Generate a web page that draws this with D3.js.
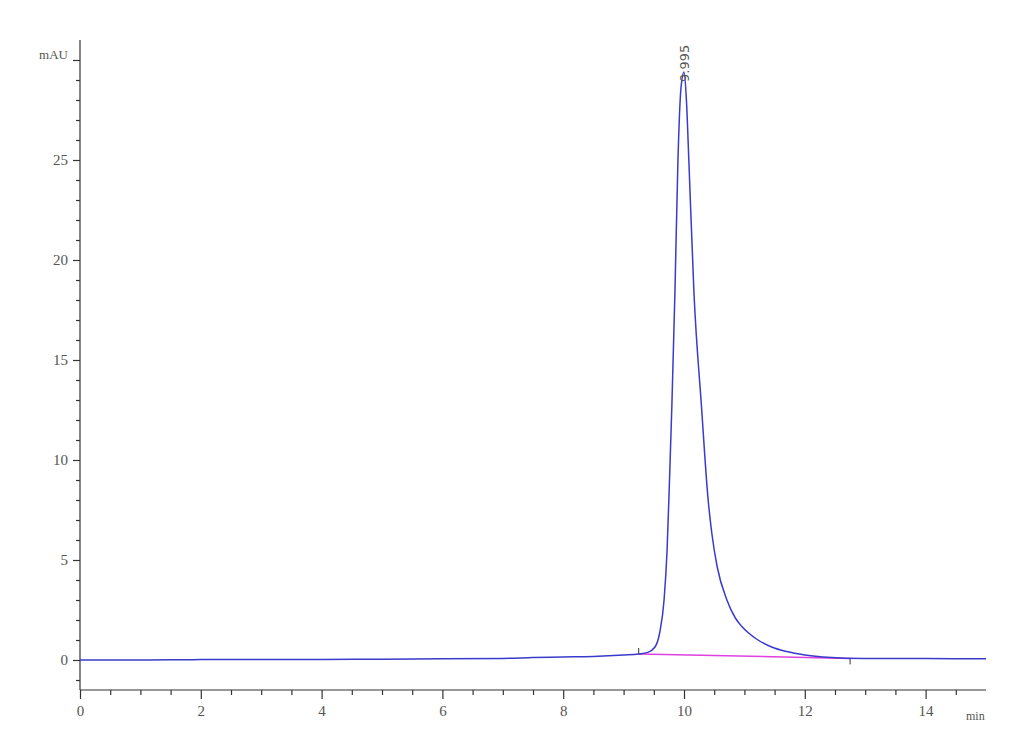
<!DOCTYPE html>
<html><head><meta charset="utf-8">
<script src="https://cdn.jsdelivr.net/npm/d3@7"></script>
<style>body{margin:0;background:#fff}svg{display:block}</style>
</head><body>
<script>
// Chromatogram trace (time in min, absorbance in mAU)
const times  = [0, 0.5, 1, 1.5, 2, 3, 4, 5, 6, 7, 7.5, 8, 8.5, 9, 9.25, 9.4, 9.52, 9.6, 9.67, 9.72, 9.76, 9.8, 9.85, 9.9, 9.95, 10.0, 10.04, 10.08, 10.165, 10.29, 10.4, 10.46, 10.55, 10.71, 10.85, 10.95, 11.07, 11.2, 11.45, 11.7, 12.0, 12.3, 12.6, 13, 14, 15];
const values = [0.0, 0.0, 0.0, 0.01, 0.02, 0.02, 0.03, 0.04, 0.06, 0.08, 0.12, 0.15, 0.18, 0.25, 0.3, 0.38, 0.65, 1.4, 3.0, 5.5, 9.0, 12.8, 18.4, 25.0, 28.6, 29.4, 28.0, 25.0, 18.35, 12.65, 8.0, 6.35, 4.65, 3.0, 2.1, 1.7, 1.35, 1.05, 0.65, 0.42, 0.25, 0.15, 0.1, 0.08, 0.07, 0.06];
// Integration baseline (start / end of peak)
const baseTimes  = [9.25, 12.75];
const baseValues = [0.3, 0.08];
const peakLabel = "9.995";
const peakTime = 9.995, peakValue = 29.4;
const yMajorTicks = [0, 5, 10, 15, 20, 25, 30];
const yTickLabels = ["0", "5", "10", "15", "20", "25", "mAU"];
const xMajorTicks = [0, 2, 4, 6, 8, 10, 12, 14];
const xUnitLabel = "min";

const W = 1030, H = 755;
const svg = d3.select("body").append("svg").attr("width", W).attr("height", H);
const x = d3.scaleLinear().domain([0, 15]).range([80, 986]);
const y = d3.scaleLinear().domain([-1.5, 30]).range([690, 60]);
const axisColor = "#333";
const font = "'Liberation Serif', 'DejaVu Serif', serif";

// minor y ticks
const yMinor = d3.range(-1, 31).filter(v => !yMajorTicks.includes(v));
const gyMinor = svg.append("g").attr("transform", "translate(80,0)")
  .call(d3.axisLeft(y).tickValues(yMinor).tickSize(4).tickFormat(""));
gyMinor.select(".domain").remove();
const gy = svg.append("g").attr("transform", "translate(80,0)")
  .call(d3.axisLeft(y).tickValues(yMajorTicks).tickSize(7).tickPadding(5)
    .tickFormat((d, i) => yTickLabels[i]));
gy.select(".domain").remove();
svg.append("line").attr("x1", 80).attr("x2", 80).attr("y1", 40).attr("y2", 690)
  .attr("stroke", axisColor).attr("stroke-width", 1.2);

// x axis
const xMinor = d3.range(0.5, 15, 0.5).filter(v => !xMajorTicks.includes(v));
const gxMinor = svg.append("g").attr("transform", "translate(0,690)")
  .call(d3.axisBottom(x).tickValues(xMinor).tickSize(5).tickFormat(""));
gxMinor.select(".domain").remove();
const gx = svg.append("g").attr("transform", "translate(0,690)")
  .call(d3.axisBottom(x).tickValues(xMajorTicks).tickSize(9).tickPadding(6).tickFormat(d3.format("d")));
gx.select(".domain").remove();
svg.append("line").attr("x1", 80).attr("x2", 986).attr("y1", 690).attr("y2", 690)
  .attr("stroke", axisColor).attr("stroke-width", 1.2);

svg.selectAll(".tick line").attr("stroke", axisColor).attr("stroke-width", 1.2);
svg.selectAll(".tick text").attr("fill", "#555").style("font-family", font).style("font-size", "15px");
gy.selectAll(".tick text").filter((d) => d === 30).style("font-size", "13px").attr("dy", "-0.1em");

svg.append("text").attr("x", 966).attr("y", 720).text(xUnitLabel)
  .attr("fill", "#555").style("font-family", font).style("font-size", "12px");

// baseline
svg.append("line")
  .attr("x1", x(baseTimes[0])).attr("y1", y(baseValues[0]))
  .attr("x2", x(baseTimes[1])).attr("y2", y(baseValues[1]))
  .attr("stroke", "#e040e0").attr("stroke-width", 1.5);
svg.append("line").attr("x1", x(baseTimes[0])).attr("x2", x(baseTimes[0]))
  .attr("y1", y(baseValues[0])).attr("y2", y(baseValues[0]) - 6).attr("stroke", "#333").attr("stroke-width", 1);
svg.append("line").attr("x1", x(baseTimes[1])).attr("x2", x(baseTimes[1]))
  .attr("y1", y(baseValues[1])).attr("y2", y(baseValues[1]) + 6).attr("stroke", "#333").attr("stroke-width", 1);

// trace
const data = times.map((t, i) => [t, values[i]]);
svg.append("path").datum(data)
  .attr("fill", "none").attr("stroke", "#3a3acc").attr("stroke-width", 1.5)
  .attr("d", d3.line().x(d => x(d[0])).y(d => y(d[1])).curve(d3.curveMonotoneX));

// peak label
svg.append("text")
  .attr("transform", `translate(${x(peakTime) + 5},${y(peakValue) + 10}) rotate(-90)`)
  .text(peakLabel).attr("fill", "#555")
  .style("font-family", "'DejaVu Sans', sans-serif").style("font-size", "13px");
</script>
</body></html>
